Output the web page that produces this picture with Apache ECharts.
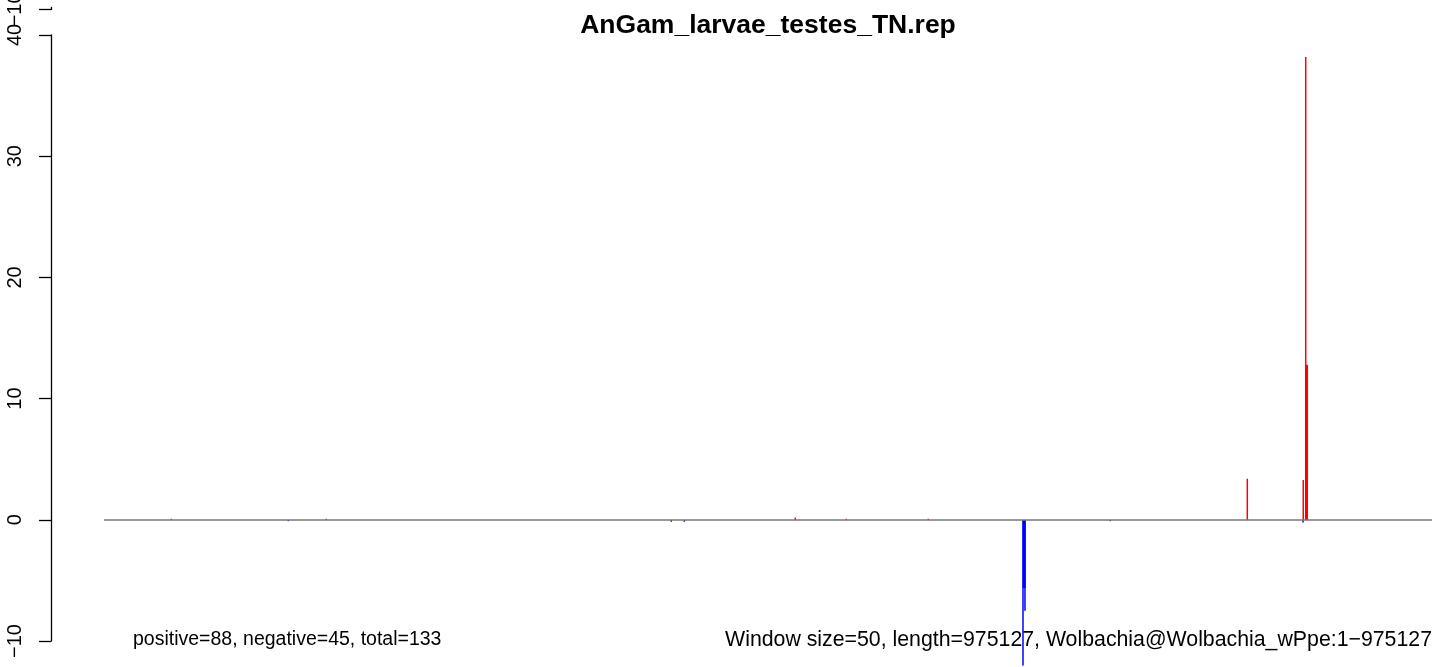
<!DOCTYPE html>
<html>
<head>
<meta charset="utf-8">
<script src="https://cdn.jsdelivr.net/npm/echarts@6/dist/echarts.min.js"></script>
<style>
  html, body { margin: 0; padding: 0; background: #fff; }
  #chart { width: 1444px; height: 667px; }
</style>
</head>
<body>
<div id="chart"></div>
<script>
// genome length and window info
var genomeLength = 975127;

// positive strand (red), thin lines
var redPos = [49400, 163200, 507600, 545050, 605250, 839500, 880600, 882400];
var redVal = [0.1, 0.1, 0.2, 0.1, 0.1, 3.4, 3.3, 38.2];
// positive strand, thick
var redThickPos = [883000];
var redThickVal = [12.8];

// negative strand (blue), thin lines
var bluePos = [135300, 416550, 426100, 674800, 676250, 738900, 880400];
var blueVal = [-0.1, -0.15, -0.15, -12.5, -7.5, -0.1, -0.2];
// negative strand, thick
var blueThickPos = [675700];
var blueThickVal = [-5.6];

var yTicksMin = -10, yTicksMax = 40, yStep = 10;
var stubTicks = [-10];

var titleText = 'AnGam_larvae_testes_TN.rep';
var leftNote = 'positive=88, negative=45, total=133';
var rightNote = 'Window size=50, length=975127, Wolbachia@Wolbachia_wPpe:1\u2212975127';

function pairs(xs, ys) {
    return xs.map(function(x, i) { return [x, ys[i]]; });
}

var font = '"Liberation Sans", Arial, sans-serif';
var chart = echarts.init(document.getElementById('chart'), null, { renderer: 'canvas' });

function minusFmt(v) { return v < 0 ? '\u2212' + Math.abs(v) : String(v); }

var axisLine = { show: true, lineStyle: { color: '#000', width: 1.3 } };
var labelStyle = { show: true, rotate: 90, margin: 26, color: '#000', fontSize: 20, fontFamily: font, formatter: minusFmt };

chart.setOption({
    animation: false,
    backgroundColor: '#fff',
    grid: [
        // data region (R plot region, -12..42)
        { left: 104, width: 1328, top: 10.9, height: 654.5 },
        // axis display (-10..40)
        { left: 51, width: 10, top: 35, height: 606 },
        // stub of the panel above
        { left: 51, width: 10, top: 0, height: 7.5 }
    ],
    xAxis: [
        { gridIndex: 0, type: 'value', min: 0, max: genomeLength, show: false },
        { gridIndex: 0, type: 'value', min: 0, max: genomeLength, show: false },
        { gridIndex: 1, type: 'value', show: false },
        { gridIndex: 2, type: 'value', show: false }
    ],
    yAxis: [
        { gridIndex: 0, type: 'value', min: -12, max: 42, show: false },
        {
            gridIndex: 1, type: 'value', min: yTicksMin, max: yTicksMax, interval: yStep,
            axisLine: axisLine,
            axisTick: { show: true, length: 12, lineStyle: { color: '#000', width: 1.3 } },
            axisLabel: labelStyle,
            splitLine: { show: false }
        },
        {
            gridIndex: 2, type: 'value', min: -10, max: -9.8,
            axisLine: axisLine,
            axisTick: { show: true, length: 12, customValues: stubTicks, lineStyle: { color: '#000', width: 1.3 } },
            axisLabel: Object.assign({}, labelStyle, { customValues: stubTicks }),
            splitLine: { show: false }
        }
    ],
    graphic: [
        { type: 'text', x: 768, y: 26, style: { text: titleText, font: 'bold 26.5px ' + font, fill: '#000', textAlign: 'center', textVerticalAlign: 'middle' } },
        { type: 'text', x: 133, y: 640, style: { text: leftNote, font: '19.5px ' + font, fill: '#000', textAlign: 'left', textVerticalAlign: 'middle' } },
        { type: 'text', x: 1432, y: 640, style: { text: rightNote, font: '21.3px ' + font, fill: '#000', textAlign: 'right', textVerticalAlign: 'middle' } }
    ],
    series: [
        {
            name: 'baseline', type: 'line', xAxisIndex: 0, yAxisIndex: 0,
            data: [], symbol: 'none',
            markLine: {
                silent: true, symbol: 'none', label: { show: false },
                lineStyle: { color: '#777777', width: 1.6, type: 'solid' },
                data: [{ yAxis: 0 }]
            }
        },
        {
            name: 'positive', type: 'bar', xAxisIndex: 0, yAxisIndex: 0,
            data: pairs(redPos, redVal), barWidth: 1.5, barGap: '-100%',
            itemStyle: { color: '#ff0000' }, z: 3
        },
        {
            name: 'negative', type: 'bar', xAxisIndex: 0, yAxisIndex: 0,
            data: pairs(bluePos, blueVal), barWidth: 1.5, barGap: '-100%',
            itemStyle: { color: '#0000ff' }, z: 3
        },
        {
            name: 'positive thick', type: 'bar', xAxisIndex: 1, yAxisIndex: 0,
            data: pairs(redThickPos, redThickVal), barWidth: 3, barGap: '-100%',
            itemStyle: { color: '#ff0000' }, z: 3
        },
        {
            name: 'negative thick', type: 'bar', xAxisIndex: 1, yAxisIndex: 0,
            data: pairs(blueThickPos, blueThickVal), barWidth: 3, barGap: '-100%',
            itemStyle: { color: '#0000ff' }, z: 3
        }
    ]
});
window.addEventListener('resize', function() { chart.resize(); });
</script>
</body>
</html>
